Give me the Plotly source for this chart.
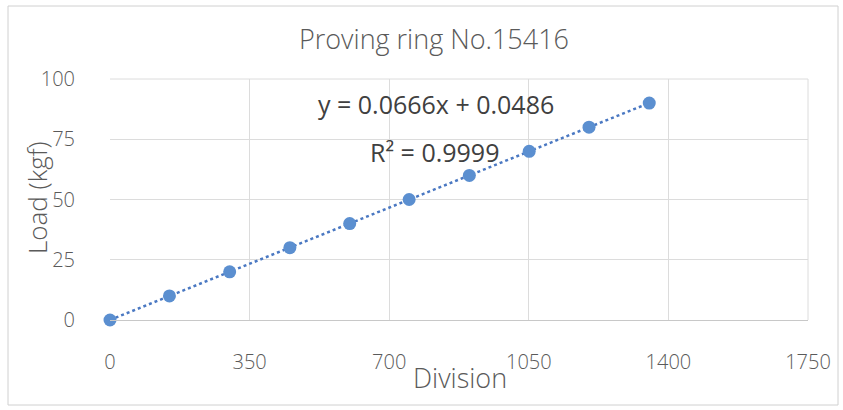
import numpy as np
import plotly.graph_objects as go

# readings
division = [0, 149, 300, 451, 601, 750, 901, 1051, 1201, 1352]
load_kgf = [0, 10, 20, 30, 40, 50, 60, 70, 80, 90]
x_ticks = [0, 350, 700, 1050, 1400, 1750]
y_ticks = [0, 25, 50, 75, 100]
eq_text = 'y = 0.0666x + 0.0486'
r2_text = 'R² = 0.9999'

slope, intercept = np.polyfit(division, load_kgf, 1)
trend_x = np.array([min(division), max(division)])
trend_y = slope * trend_x + intercept

W, H = 843, 410
L, R, T, B = 110, 35, 79, 90
pw, ph = W - L - R, H - T - B

def px_x(x):
    return (x - L) / pw

def px_y(y):
    return 1 - (y - T) / ph

font_fam = 'Open Sans, Lato, sans-serif'
grey = '#5a5a5a'

def label(text, x, y, size, color=grey, weight=300, angle=0):
    return dict(text=text, x=px_x(x), y=px_y(y), xref='paper', yref='paper',
                xanchor='center', yanchor='middle', showarrow=False, textangle=angle,
                font=dict(size=size, color=color, family=font_fam, weight=weight))

fig = go.Figure()
fig.add_trace(go.Scatter(x=trend_x, y=trend_y, mode='lines',
                         line=dict(color='#4a78c2', width=2.5, dash='dot'),
                         hoverinfo='skip', showlegend=False, cliponaxis=False))
fig.add_trace(go.Scatter(x=division, y=load_kgf, mode='markers',
                         marker=dict(color='#5b8fd0', size=13),
                         showlegend=False, cliponaxis=False))

fig.update_layout(
    width=W, height=H, margin=dict(l=L, r=R, t=T, b=B, autoexpand=False),
    plot_bgcolor='white', paper_bgcolor='white',
    font=dict(family=font_fam, color=grey, weight=300),
    title=dict(text='Proving ring No.15416', x=434 / W, xanchor='center',
               y=1 - 40 / H, yanchor='middle',
               font=dict(size=27, color=grey, family=font_fam, weight=300)),
    xaxis=dict(range=[0, 1750], tickvals=x_ticks, showgrid=True, gridcolor='#dcdcdc',
               zeroline=False, showline=True, linecolor='#c8c8c8', linewidth=1,
               mirror=False, ticks='', ticklabelstandoff=24, automargin=False,
               tickfont=dict(size=20, color=grey, weight=300)),
    yaxis=dict(range=[0, 100], tickvals=y_ticks, showgrid=True, gridcolor='#dcdcdc',
               zeroline=False, ticks='', ticklabelstandoff=34, automargin=False,
               tickfont=dict(size=20, color=grey, weight=300)),
    annotations=[
        label('Division', 460, 377, 27),
        label('Load (kgf)', 37, 198, 26, angle=-90),
        label(eq_text, 436, 104, 25, color='#404040', weight=400),
        label(r2_text, 434, 152, 25, color='#404040', weight=400),
    ],
    shapes=[
        dict(type='line', xref='paper', yref='paper', x0=1, x1=1, y0=0, y1=1,
             line=dict(color='#dcdcdc', width=1)),
        dict(type='line', xref='paper', yref='paper', x0=0, x1=1, y0=1, y1=1,
             line=dict(color='#dcdcdc', width=1)),
        dict(type='rect', xref='paper', yref='paper',
             x0=px_x(8), x1=px_x(838), y0=px_y(405), y1=px_y(6),
             line=dict(color='#d0d0d0', width=1), fillcolor='rgba(0,0,0,0)', layer='below'),
    ],
)

fig.write_html('out.html', config={'displayModeBar': False},
               post_script="document.body.style.margin='0';")
